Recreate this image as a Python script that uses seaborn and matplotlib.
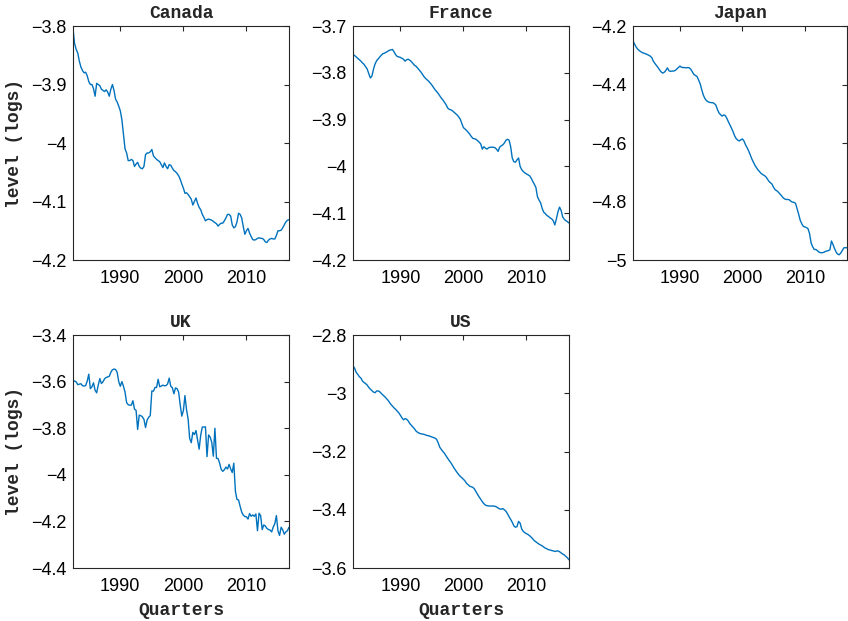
# Quarterly levels (logs) for five countries, small multiples in MATLAB style
import matplotlib
matplotlib.use('Agg')
import matplotlib.pyplot as plt
import numpy as np
import pandas as pd
import seaborn as sns

# Data, 1982Q3 .. 2016Q4
periods = pd.period_range('1982Q3', '2016Q4', freq='Q')

canada = [-3.805, -3.83, -3.84, -3.846, -3.86, -3.87, -3.876, -3.88, -3.879, -3.885,
          -3.895, -3.90, -3.90, -3.907, -3.92, -3.898, -3.90, -3.902, -3.908, -3.91,
          -3.912, -3.909, -3.913, -3.92, -3.908, -3.90, -3.91, -3.925, -3.93, -3.937,
          -3.945, -3.96, -3.985, -4.01, -4.017, -4.03, -4.03, -4.028, -4.03, -4.04,
          -4.036, -4.033, -4.04, -4.043, -4.044, -4.04, -4.02, -4.017, -4.017, -4.015,
          -4.011, -4.022, -4.025, -4.028, -4.03, -4.032, -4.037, -4.042, -4.034, -4.04,
          -4.044, -4.037, -4.038, -4.043, -4.047, -4.049, -4.052, -4.056, -4.062, -4.07,
          -4.077, -4.086, -4.085, -4.088, -4.092, -4.096, -4.106, -4.10, -4.094, -4.103,
          -4.11, -4.114, -4.122, -4.127, -4.133, -4.131, -4.13, -4.131, -4.132, -4.134,
          -4.136, -4.138, -4.142, -4.139, -4.137, -4.137, -4.133, -4.128, -4.122, -4.122,
          -4.125, -4.14, -4.145, -4.143, -4.135, -4.12, -4.122, -4.128, -4.143, -4.156,
          -4.15, -4.146, -4.154, -4.16, -4.165, -4.166, -4.165, -4.163, -4.162, -4.163,
          -4.163, -4.165, -4.169, -4.17, -4.166, -4.164, -4.163, -4.164, -4.164, -4.158,
          -4.15, -4.15, -4.149, -4.145, -4.14, -4.135, -4.132, -4.131]

france = [-3.761, -3.763, -3.766, -3.769, -3.772, -3.775, -3.779, -3.782, -3.787, -3.792,
          -3.802, -3.811, -3.807, -3.792, -3.781, -3.774, -3.77, -3.766, -3.762, -3.759,
          -3.758, -3.756, -3.754, -3.752, -3.751, -3.75, -3.755, -3.761, -3.765, -3.766,
          -3.767, -3.769, -3.771, -3.775, -3.772, -3.771, -3.773, -3.776, -3.78, -3.784,
          -3.786, -3.79, -3.794, -3.798, -3.803, -3.808, -3.812, -3.815, -3.818, -3.822,
          -3.826, -3.831, -3.836, -3.84, -3.844, -3.849, -3.854, -3.858, -3.863, -3.868,
          -3.875, -3.878, -3.879, -3.881, -3.884, -3.887, -3.89, -3.894, -3.899, -3.908,
          -3.917, -3.92, -3.923, -3.927, -3.931, -3.936, -3.94, -3.941, -3.942, -3.945,
          -3.948, -3.952, -3.963, -3.958, -3.961, -3.963, -3.96, -3.959, -3.959, -3.959,
          -3.96, -3.963, -3.968, -3.959, -3.956, -3.954, -3.95, -3.944, -3.942, -3.944,
          -3.958, -3.982, -3.99, -3.991, -3.986, -3.982, -4.0, -4.007, -4.011, -4.014,
          -4.016, -4.018, -4.02, -4.025, -4.032, -4.038, -4.045, -4.065, -4.072, -4.078,
          -4.09, -4.098, -4.101, -4.105, -4.107, -4.11, -4.112, -4.116, -4.125, -4.112,
          -4.097, -4.087, -4.094, -4.108, -4.113, -4.116, -4.118, -4.121]

japan = [-4.251, -4.262, -4.272, -4.279, -4.284, -4.288, -4.291, -4.293, -4.295, -4.297,
         -4.30, -4.303, -4.308, -4.32, -4.328, -4.335, -4.342, -4.35, -4.357, -4.361,
         -4.358, -4.352, -4.343, -4.353, -4.355, -4.354, -4.354, -4.352, -4.347, -4.342,
         -4.337, -4.341, -4.342, -4.342, -4.343, -4.342, -4.343, -4.348, -4.357, -4.366,
         -4.369, -4.373, -4.385, -4.398, -4.418, -4.436, -4.448, -4.455, -4.459, -4.461,
         -4.462, -4.462, -4.465, -4.47, -4.485, -4.497, -4.503, -4.508, -4.504, -4.506,
         -4.515, -4.527, -4.538, -4.549, -4.561, -4.575, -4.585, -4.59, -4.593, -4.589,
         -4.586, -4.593, -4.606, -4.616, -4.627, -4.64, -4.654, -4.665, -4.676, -4.684,
         -4.692, -4.698, -4.704, -4.708, -4.711, -4.715, -4.723, -4.731, -4.736, -4.741,
         -4.752, -4.76, -4.763, -4.768, -4.774, -4.78, -4.787, -4.791, -4.793, -4.793,
         -4.794, -4.799, -4.802, -4.803, -4.806, -4.824, -4.843, -4.864, -4.876, -4.885,
         -4.887, -4.889, -4.893, -4.91, -4.942, -4.955, -4.964, -4.964, -4.968, -4.973,
         -4.975, -4.975, -4.974, -4.971, -4.969, -4.968, -4.965, -4.935, -4.947, -4.961,
         -4.973, -4.98, -4.982, -4.976, -4.967, -4.958, -4.958, -4.958]

uk = [-3.594, -3.598, -3.601, -3.613, -3.611, -3.609, -3.617, -3.619, -3.617, -3.598,
      -3.568, -3.63, -3.622, -3.605, -3.637, -3.648, -3.615, -3.587, -3.608, -3.601,
      -3.588, -3.582, -3.58, -3.577, -3.56, -3.549, -3.546, -3.548, -3.56, -3.6,
      -3.62, -3.6, -3.62, -3.645, -3.69, -3.699, -3.701, -3.701, -3.682, -3.718,
      -3.723, -3.805, -3.744, -3.746, -3.751, -3.762, -3.797, -3.765, -3.753, -3.746,
      -3.64, -3.641, -3.625, -3.625, -3.59, -3.622, -3.619, -3.615, -3.618, -3.617,
      -3.61, -3.585, -3.62, -3.626, -3.652, -3.627, -3.63, -3.645, -3.7, -3.748,
      -3.725, -3.66, -3.72, -3.76, -3.844, -3.862, -3.818, -3.827, -3.81, -3.85,
      -3.89, -3.83, -3.795, -3.795, -3.794, -3.922, -3.829, -3.838, -3.86, -3.92,
      -3.80, -3.929, -3.93, -3.95, -3.977, -3.985, -3.978, -3.967, -3.975, -3.955,
      -3.975, -3.99, -3.95, -4.07, -4.106, -4.108, -4.135, -4.16, -4.173, -4.179,
      -4.18, -4.19, -4.166, -4.178, -4.172, -4.178, -4.168, -4.24, -4.165, -4.175,
      -4.235, -4.215, -4.22, -4.23, -4.235, -4.237, -4.245, -4.224, -4.21, -4.175,
      -4.24, -4.26, -4.225, -4.236, -4.255, -4.245, -4.24, -4.225]

us = [-2.906, -2.914, -2.928, -2.935, -2.943, -2.948, -2.958, -2.963, -2.967, -2.972,
      -2.98, -2.986, -2.991, -2.996, -2.998, -2.992, -2.992, -2.995, -3.001, -3.006,
      -3.011, -3.017, -3.023, -3.03, -3.038, -3.044, -3.05, -3.055, -3.061, -3.067,
      -3.075, -3.084, -3.091, -3.087, -3.089, -3.095, -3.104, -3.11, -3.116, -3.122,
      -3.13, -3.134, -3.137, -3.139, -3.14, -3.141, -3.143, -3.145, -3.146, -3.148,
      -3.15, -3.152, -3.154, -3.158, -3.17, -3.185, -3.193, -3.2, -3.206, -3.215,
      -3.223, -3.231, -3.238, -3.247, -3.256, -3.264, -3.272, -3.279, -3.285, -3.29,
      -3.295, -3.301, -3.309, -3.314, -3.319, -3.321, -3.323, -3.328, -3.338, -3.347,
      -3.356, -3.364, -3.372, -3.379, -3.384, -3.386, -3.387, -3.387, -3.387, -3.387,
      -3.388, -3.39, -3.394, -3.397, -3.398, -3.396, -3.40, -3.405, -3.414, -3.424,
      -3.433, -3.443, -3.455, -3.46, -3.458, -3.44, -3.446, -3.466, -3.474, -3.479,
      -3.482, -3.485, -3.489, -3.494, -3.5, -3.506, -3.51, -3.514, -3.518, -3.521,
      -3.524, -3.528, -3.532, -3.534, -3.537, -3.538, -3.54, -3.541, -3.543, -3.542,
      -3.541, -3.544, -3.548, -3.552, -3.555, -3.56, -3.565, -3.572]

countries = ['Canada', 'France', 'Japan', 'UK', 'US']
series = [canada, france, japan, uk, us]
ylims = [(-4.2, -3.8), (-4.2, -3.7), (-5.0, -4.2), (-4.4, -3.4), (-3.6, -2.8)]
ysteps = [0.1, 0.1, 0.2, 0.2, 0.2]
xticks = [1990, 2000, 2010]

# Fractional year for each quarter (1982Q3 -> 1982.5)
qyear = periods.year + (periods.quarter - 1) / 4.0

df = pd.concat([pd.DataFrame({'country': c, 'date': qyear, 'level': v})
                for c, v in zip(countries, series)], ignore_index=True)

sns.set_style('white')
plt.rcParams['font.family'] = ['Liberation Sans', 'DejaVu Sans']

axis_grey = '#262626'
line_blue = '#0072BD'
mono = ['Liberation Mono', 'DejaVu Sans Mono']

fig = plt.figure(figsize=(8.48, 6.21), dpi=100)

# axes rectangles (left, bottom, width, height) in figure fractions
boxes = [(0.0861, 0.5813, 0.2547, 0.3768),
         (0.4163, 0.5813, 0.2547, 0.3768),
         (0.7465, 0.5813, 0.2524, 0.3768),
         (0.0861, 0.0853, 0.2547, 0.3752),
         (0.4163, 0.0853, 0.2547, 0.3752)]


def fmt_tick(v):
    return '{:g}'.format(round(v, 2)).replace('-', '\u2212')


for i, name in enumerate(countries):
    ax = fig.add_axes(boxes[i])
    sns.lineplot(data=df[df['country'] == name], x='date', y='level',
                 ax=ax, color=line_blue, linewidth=1.0)
    ax.set_xlim(qyear[0], qyear[-1])
    lo, hi = ylims[i]
    ax.set_ylim(lo, hi)
    yt = np.round(np.arange(lo, hi + 1e-9, ysteps[i]), 2)
    ax.set_yticks(yt)
    ax.set_yticklabels([fmt_tick(v) for v in yt])
    ax.set_xticks(xticks)
    ax.set_xticklabels([str(t) for t in xticks])
    ax.tick_params(direction='in', top=True, right=True, length=3.5,
                   width=0.8, color=axis_grey, labelcolor='black',
                   labelsize=13)
    ax.tick_params(axis='x', pad=7)
    ax.tick_params(axis='y', pad=4.5)
    for sp in ax.spines.values():
        sp.set_visible(True)
        sp.set_color(axis_grey)
        sp.set_linewidth(0.8)
    ax.set_title(name, fontsize=13, fontweight='bold', family=mono, pad=6)
    if i in (0, 3):
        ax.set_ylabel('level (logs)', fontsize=13, fontweight='bold',
                      family=mono, labelpad=6)
    else:
        ax.set_ylabel('')
    if i in (3, 4):
        ax.set_xlabel('Quarters', fontsize=13, fontweight='bold',
                      family=mono, labelpad=5)
    else:
        ax.set_xlabel('')

fig.savefig('out.png', dpi=100)
